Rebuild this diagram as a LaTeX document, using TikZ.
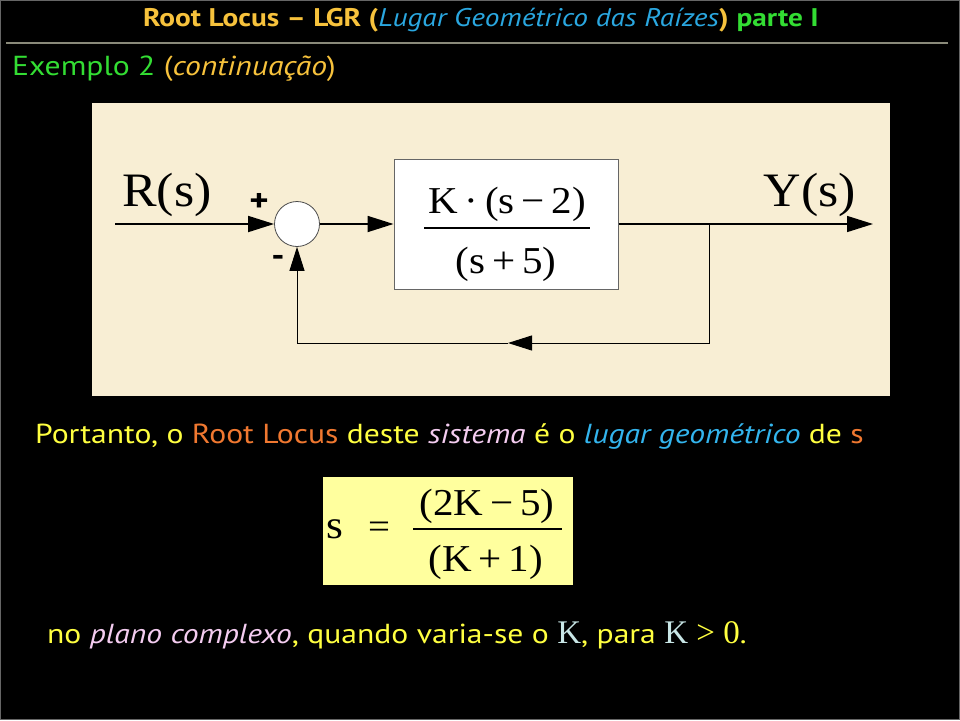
\documentclass[tikz,border=0pt]{standalone}
\usepackage{fontspec}
\usepackage{graphicx}
\setmainfont{PT Sans}[FakeStretch=1.15]
\newfontfamily\serif{Liberation Serif}
\usetikzlibrary{arrows.meta,positioning}
\definecolor{titleorange}{HTML}{F7C23C}
\definecolor{titleblue}{HTML}{2AA7E0}
\definecolor{titlegreen}{HTML}{33DD33}
\definecolor{txtyellow}{HTML}{FFFF40}
\definecolor{txtorange}{HTML}{F07830}
\definecolor{txtpink}{HTML}{F4CCF0}
\definecolor{txtblue}{HTML}{33B5EE}
\definecolor{kcyan}{HTML}{C8E6E6}
\definecolor{panelbeige}{HTML}{F8EED4}
\definecolor{boxyellow}{HTML}{FFFF9E}
\definecolor{rulegray}{HTML}{8A8A7A}
% Times-like text of the equations, a little wide
\newcommand{\stretchtxt}[2][38]{{\serif\fontsize{#1}{#1}\selectfont\scalebox{1.08}[1]{#2}}}
\begin{document}
\begin{tikzpicture}[x=1pt,y=-1pt,
    flow/.style={line width=1.8pt,-{Triangle[length=26pt,width=16pt]}},
    thinflow/.style={line width=1pt,-{Triangle[length=24pt,width=15pt]}},
    sumnode/.style={circle,draw=black!70,fill=white,line width=0.8pt,minimum size=45pt,inner sep=0pt},
    plantbox/.style={draw=black!60,fill=white,line width=1pt,minimum width=224pt,minimum height=130pt},
    fracline/.style={line width=1.5pt}]
  \useasboundingbox (0,0) rectangle (960,720);
  \fill[black] (0,0) rectangle (960,720);
  \draw[black!60,line width=1pt] (0.5,0.5) rectangle (959.5,719.5);

  % heading
  \node[anchor=base,inner sep=0pt,font=\fontsize{25.5}{25.5}\selectfont] (title) at (481,27)
    {\textcolor{titleorange}{\bfseries Root Locus -- LGR (}\textcolor{titleblue}{\itshape Lugar Geométrico das Raízes}\textcolor{titleorange}{\bfseries)} \textcolor{titlegreen}{\bfseries parte I}};
  \draw[rulegray,line width=2pt] (6,43) -- (948,43);
  \node[anchor=base west,inner sep=0pt,font=\fontsize{27.5}{27.5}\selectfont] (example) at (12,75)
    {\textcolor{titlegreen}{Exemplo 2} \textcolor{titleorange}{(\textit{continuação})}};

  % block diagram
  \fill[panelbeige] (92,103) rectangle (890,396);
  \node[sumnode] (sum) at (297,224) {};
  \node[plantbox] (plant) at (506,224) {};
  \node[anchor=base,inner sep=0pt] (num) at (507,213) {\stretchtxt{K\,·\,(s\,−\,2)}};
  \node[anchor=base,inner sep=0pt] (den) at (506,273) {\stretchtxt{(s\,+\,5)}};
  \draw[fracline] (424,228) -- (590,228);
  \node[anchor=base,inner sep=0pt] (rlabel) at (167,206) {\stretchtxt[48]{R(s)}};
  \node[anchor=base,inner sep=0pt] (ylabel) at (810,206) {\stretchtxt[48]{Y(s)}};
  \node[font=\fontsize{32}{32}\selectfont\bfseries] (plus) at (259,202) {+};
  \node[font=\fontsize{32}{32}\selectfont\bfseries] (minus) at (278,261) {-};
  \coordinate (in) at (115,224);
  \coordinate (branch) at (709,224);
  \coordinate (out) at (873,224);
  \coordinate (fbk) at (508,343);
  \draw[flow] (in) -- (sum.west);
  \draw[flow] (sum.east) -- (plant.west);
  \draw[flow,line width=1.4pt] (plant.east) -- (out);
  \draw[thinflow] (branch) |- (fbk);
  \draw[thinflow] (fbk) -| (sum.south);

  % text and formula
  \node[anchor=base west,inner sep=0pt,font=\fontsize{27.5}{27.5}\selectfont,text=txtyellow] (portanto) at (35,443)
    {Portanto, o \textcolor{txtorange}{Root Locus} deste \textcolor{txtpink}{\itshape sistema} é o \textcolor{txtblue}{\itshape lugar geométrico} de \textcolor{txtorange}{s}};
  \node[fill=boxyellow,minimum width=250pt,minimum height=108pt] (sbox) at (448,531) {};
  \node[inner sep=0pt] (svar) at (335,529) {\stretchtxt[40]{s}};
  \node[inner sep=0pt] (equal) at (379,530) {\stretchtxt[36]{=}};
  \node[anchor=base,inner sep=0pt] (snum) at (487,515) {\stretchtxt{(2K\,−\,5)}};
  \node[anchor=base,inner sep=0pt] (sden) at (486,571) {\stretchtxt{(K\,+\,1)}};
  \draw[fracline] (413,529) -- (562,529);
  \node[anchor=base west,inner sep=0pt,font=\fontsize{27.5}{27.5}\selectfont,text=txtyellow] (plano) at (47,643)
    {no \textcolor{txtpink}{\itshape plano complexo}, quando varia-se o {\serif\fontsize{33}{33}\selectfont\textcolor{kcyan}{K}}, para {\serif\fontsize{33}{33}\selectfont\textcolor{kcyan}{K} > 0}.};
\end{tikzpicture}
\end{document}
